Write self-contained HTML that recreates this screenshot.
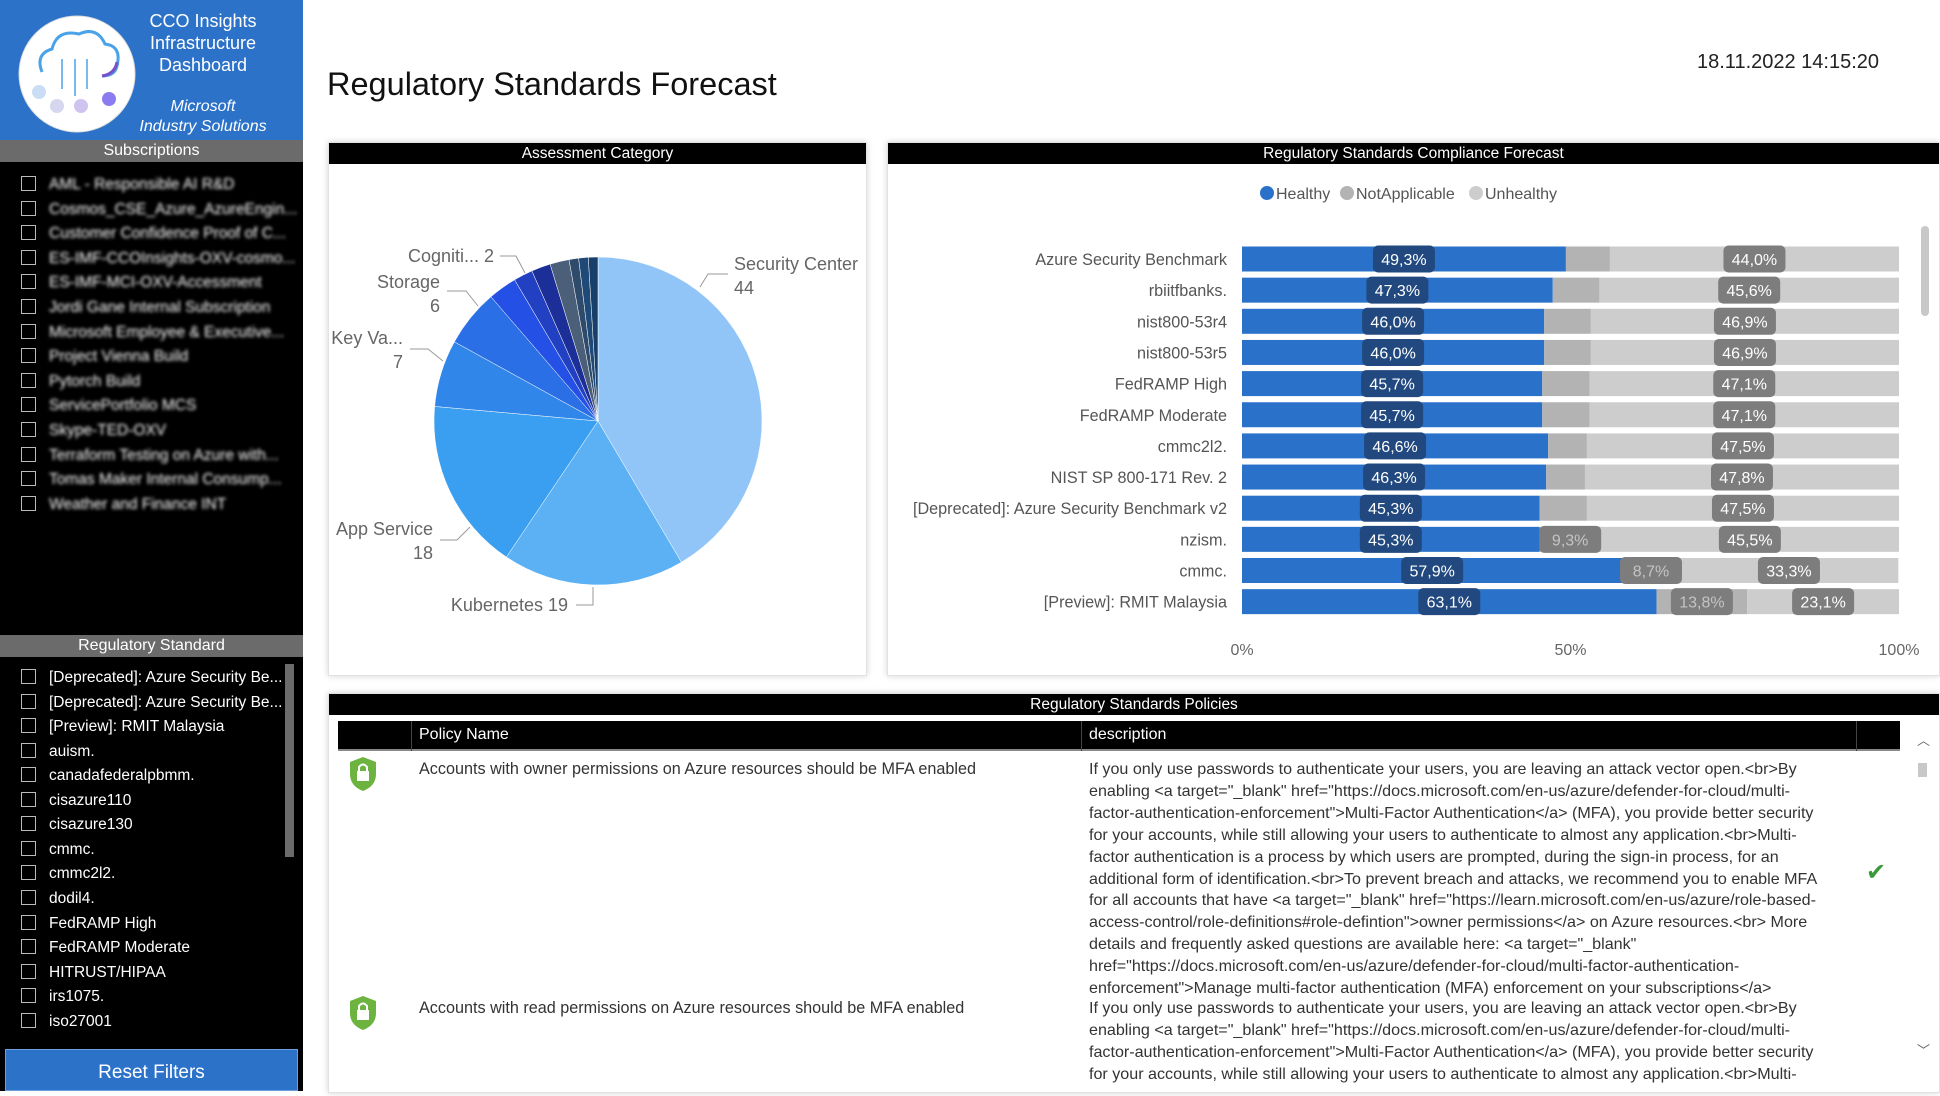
<!DOCTYPE html>
<html><head><meta charset="utf-8">
<style>
*{box-sizing:border-box;margin:0;padding:0}
body{width:1940px;height:1091px;overflow:hidden;background:#fff;font-family:"Liberation Sans",sans-serif;position:relative}
.abs{position:absolute}
#sidebar{left:0;top:0;width:303px;height:1091px;background:#000}
#brand{left:0;top:0;width:303px;height:140px;background:#2b72c8}
.brandtxt{position:absolute;left:140px;width:126px;text-align:center;color:#fff;font-size:18px;line-height:22px}
.sechdr{position:absolute;left:0;width:303px;height:22px;background:#6b6b6b;color:#fff;text-align:center;font-size:16px;line-height:22px}
.item{position:absolute;left:21px;height:22px;color:#fff;font-size:15.5px;line-height:20px;white-space:nowrap}
.cb{display:inline-block;width:15px;height:15px;border:1.5px solid #bbb;vertical-align:-2px;margin-right:13px}
.blur span.t{filter:blur(1.6px)}
.panel{position:absolute;background:#fff;border:1px solid #e2e2e2;box-shadow:0 0 6px rgba(0,0,0,.18)}
.phdr{height:21px;background:#000;color:#fff;text-align:center;font-size:15.5px;line-height:21px}
.desc{position:absolute;left:1089px;font-size:16.1px;color:#333;white-space:nowrap;line-height:21.8px}
</style></head><body>
<div id="sidebar" class="abs">
 <div id="brand" class="abs">
  <svg class="abs" style="left:17px;top:14px" width="122" height="122">
   <circle cx="60" cy="60" r="58" fill="#fff" stroke="#ddd"/>
   <path d="M25 58 Q18 40 35 35 Q40 15 62 20 Q80 12 88 30 Q105 32 100 52 Q98 62 85 62" fill="none" stroke="#4aa3e8" stroke-width="3"/>
   <path d="M85 62 Q98 60 100 48" fill="none" stroke="#7b4fc9" stroke-width="3"/>
   <line x1="45" y1="45" x2="45" y2="75" stroke="#4aa3e8" stroke-width="1.5"/>
   <line x1="58" y1="45" x2="58" y2="82" stroke="#4aa3e8" stroke-width="1.5"/>
   <line x1="70" y1="45" x2="70" y2="75" stroke="#4aa3e8" stroke-width="1.5"/>
   <circle cx="22" cy="78" r="7" fill="#c9def5"/><circle cx="40" cy="92" r="7" fill="#d6d6ee"/>
   <circle cx="64" cy="92" r="7" fill="#cfc4f0"/><circle cx="92" cy="85" r="7" fill="#8a7cf0"/>
  </svg>
  <div class="brandtxt" style="top:10px">CCO Insights<br>Infrastructure<br>Dashboard</div>
  <div class="brandtxt" style="top:97px;font-style:italic;font-size:16px;line-height:20px;left:135px;width:136px">Microsoft<br>Industry Solutions</div>
 </div>
 <div class="sechdr" style="top:140px">Subscriptions</div>
 <div id="subs" class="blur"></div>
 <div class="sechdr" style="top:635px">Regulatory Standard</div>
 <div id="regs"></div>
 <div class="abs" style="left:285px;top:664px;width:9px;height:193px;background:#6b6b6b"></div>
 <div class="abs" style="left:5px;top:1049px;width:293px;height:42px;background:#2b72c8;color:#fff;text-align:center;font-size:19px;line-height:46px;border:1px solid #6aa0e0">Reset Filters</div>
</div>

<div class="abs" style="left:327px;top:66px;font-size:32.5px;color:#111">Regulatory Standards Forecast</div>
<div class="abs" style="left:1697px;top:51px;font-size:20px;color:#222">18.11.2022 14:15:20</div>

<div class="panel" style="left:328px;top:142px;width:539px;height:534px">
 <div class="phdr">Assessment Category</div>
</div>
<div class="panel" style="left:887px;top:142px;width:1053px;height:534px">
 <div class="phdr">Regulatory Standards Compliance Forecast</div>
</div>
<svg id="charts" class="abs" style="left:0;top:0" width="1940" height="1091"></svg>

<div class="panel" style="left:328px;top:693px;width:1612px;height:400px">
 <div class="phdr">Regulatory Standards Policies</div>
</div>
<div class="abs" style="left:338px;top:721px;width:1562px;height:30px;background:#000;color:#fff;font-size:16px;line-height:28px;border-bottom:2px solid #888">
 <div class="abs" style="left:73px;top:0;width:1px;height:30px;background:#444"></div>
 <span class="abs" style="left:81px">Policy Name</span>
 <div class="abs" style="left:743px;top:0;width:1px;height:30px;background:#444"></div>
 <span class="abs" style="left:751px">description</span>
 <div class="abs" style="left:1518px;top:0;width:1px;height:30px;background:#444"></div>
</div>
<svg class="abs" style="left:348px;top:756px" width="30" height="36"><path d="M15 1 L28 6 L28 18 Q28 30 15 35 Q2 30 2 18 L2 6Z" fill="#6db33f"/><rect x="9" y="15" width="12" height="10" fill="#fff"/><path d="M11 15 V11 Q15 6 19 11 V15" fill="none" stroke="#fff" stroke-width="2"/></svg>
<svg class="abs" style="left:348px;top:995px" width="30" height="36"><path d="M15 1 L28 6 L28 18 Q28 30 15 35 Q2 30 2 18 L2 6Z" fill="#6db33f"/><rect x="9" y="15" width="12" height="10" fill="#fff"/><path d="M11 15 V11 Q15 6 19 11 V15" fill="none" stroke="#fff" stroke-width="2"/></svg>
<div class="abs" style="left:419px;top:760px;font-size:16.2px;color:#333">Accounts with owner permissions on Azure resources should be MFA enabled</div>
<div class="abs" style="left:419px;top:999px;font-size:16.2px;color:#333">Accounts with read permissions on Azure resources should be MFA enabled</div>
<div id="descs"></div>
<div class="abs" style="left:1866px;top:858px;color:#3a9a3a;font-size:24px">✔</div>
<div class="abs" style="left:1917px;top:730px;color:#666;font-size:13px">︿</div>
<div class="abs" style="left:1918px;top:763px;width:9px;height:14px;background:#c8c8c8"></div>
<div class="abs" style="left:1917px;top:1040px;color:#666;font-size:13px">﹀</div>

<script>
const subNames=["AML - Responsible AI R&D","Cosmos_CSE_Azure_AzureEngin...","Customer Confidence Proof of C...","ES-IMF-CCOInsights-OXV-cosmo...","ES-IMF-MCI-OXV-Accessment","Jordi Gane Internal Subscription","Microsoft Employee & Executive...","Project Vienna Build","Pytorch Build","ServicePortfolio MCS","Skype-TED-OXV","Terraform Testing on Azure with...","Tomas Maker Internal Consump...","Weather and Finance INT"];
const regNames=["[Deprecated]: Azure Security Be...","[Deprecated]: Azure Security Be...","[Preview]: RMIT Malaysia","auism.","canadafederalpbmm.","cisazure110","cisazure130","cmmc.","cmmc2l2.","dodil4.","FedRAMP High","FedRAMP Moderate","HITRUST/HIPAA","irs1075.","iso27001"];
const subs=document.getElementById('subs');
subNames.forEach((n,i)=>{const d=document.createElement('div');d.className='item';d.style.top=(175+i*24.6)+'px';d.innerHTML='<span class="cb"></span><span class="t">'+n+'</span>';


subs.appendChild(d);});
const regs=document.getElementById('regs');
regNames.forEach((n,i)=>{const d=document.createElement('div');d.className='item';d.style.top=(668+i*24.55)+'px';d.innerHTML='<span class="cb"></span><span class="t">'+n+'</span>';


regs.appendChild(d);});
const descLines=["If you only use passwords to authenticate your users, you are leaving an attack vector open.<br>By","enabling <a target=\"_blank\" href=\"https://docs.microsoft.com/en-us/azure/defender-for-cloud/multi-","factor-authentication-enforcement\">Multi-Factor Authentication</a> (MFA), you provide better security","for your accounts, while still allowing your users to authenticate to almost any application.<br>Multi-","factor authentication is a process by which users are prompted, during the sign-in process, for an","additional form of identification.<br>To prevent breach and attacks, we recommend you to enable MFA","for all accounts that have <a target=\"_blank\" href=\"https://learn.microsoft.com/en-us/azure/role-based-","access-control/role-definitions#role-defintion\">owner permissions</a> on Azure resources.<br> More","details and frequently asked questions are available here: <a target=\"_blank\"","href=\"https://docs.microsoft.com/en-us/azure/defender-for-cloud/multi-factor-authentication-","enforcement\">Manage multi-factor authentication (MFA) enforcement on your subscriptions</a>"];
const descs=document.getElementById('descs');
function addDesc(lines,top,name){lines.forEach((l,i)=>{const d=document.createElement('div');d.className='desc';d.style.top=(top+i*21.9)+'px';d.textContent=l;


descs.appendChild(d);});}
addDesc(descLines,759,'policy-description-1');
addDesc(descLines.slice(0,4),998,'policy-description-2');

const NS='http://www.w3.org/2000/svg';
const svg=document.getElementById('charts');
function el(tag,attrs,parent){const e=document.createElementNS(NS,tag);for(const k in attrs)e.setAttribute(k,attrs[k]);(parent||svg).appendChild(e);return e;}

/* ---- pie data ---- */
const pieCategories=["Security Center","Kubernetes","App Service","Key Va...","Storage","Other A","Cogniti...","Other B","Other C","Other D","Other E","Other F"];
const pieValues=[44,19,18,7,6,3,2,2,2,1,1,1];
const pieColors=["#92c5f7","#5cb1f4","#3a9ff0","#3087e9","#2a6fe6","#2550e6","#2140c2","#1c2f98","#4b5f78","#2f4b6b","#1f4a78","#173f6a"];
const cx=598,cy=421,R=164;
const total=pieValues.reduce((a,b)=>a+b,0);
let acc=0;
pieValues.forEach((v,i)=>{const a0=acc/total*2*Math.PI;acc+=v;const a1=acc/total*2*Math.PI;
 const x0=cx+R*Math.sin(a0),y0=cy-R*Math.cos(a0),x1=cx+R*Math.sin(a1),y1=cy-R*Math.cos(a1);
 const p=el('path',{d:`M${cx},${cy} L${x0},${y0} A${R},${R} 0 ${a1-a0>Math.PI?1:0} 1 ${x1},${y1}Z`,fill:pieColors[i],stroke:'#fff','stroke-width':0.5});
 
 
});
const pieLabelLayout=[[0,734,264,true,'start','700,287 708,274 728,274'],[1,568,605,false,'end','576,605 593,605 593,587'],[2,433,529,true,'end','440,540 457,540 470,527'],[3,403,338,true,'end','410,349 428,349 443,361'],[4,440,282,true,'end','447,291 466,291 478,306'],[6,494,256,false,'end','500,256 516,256 525,273']];
pieLabelLayout.forEach(L=>{const i=L[0];
 const pl=el('polyline',{points:L[5],fill:'none',stroke:'#999','stroke-width':1});
 
 
 const t=el('text',{x:L[1],y:L[2]+6,'text-anchor':L[4],'font-size':18,fill:'#666','font-family':'Liberation Sans'});
 t.textContent=L[3]?pieCategories[i]:pieCategories[i]+' '+pieValues[i];
 
 
 if(L[3]){const t2=el('text',{x:L[1],y:L[2]+30,'text-anchor':L[4],'font-size':18,fill:'#666','font-family':'Liberation Sans'});t2.textContent=pieValues[i];
 
 }
});

/* ---- bar data ---- */
const barCategories=["Azure Security Benchmark","rbiitfbanks.","nist800-53r4","nist800-53r5","FedRAMP High","FedRAMP Moderate","cmmc2l2.","NIST SP 800-171 Rev. 2","[Deprecated]: Azure Security Benchmark v2","nzism.","cmmc.","[Preview]: RMIT Malaysia"];
const healthy=[49.3,47.3,46.0,46.0,45.7,45.7,46.6,46.3,45.3,45.3,57.9,63.1];
const notApplicable=[6.7,7.1,7.1,7.1,7.2,7.2,5.9,5.9,7.2,9.3,8.7,13.8];
const unhealthy=[44.0,45.6,46.9,46.9,47.1,47.1,47.5,47.8,47.5,45.5,33.3,23.1];
const xTicks=[0,50,100];
const X0=1242,X1=1899;
const xs=v=>X0+(X1-X0)*v/100;
const ROW0=259,PITCH=31.15,BH=25;
const ys=i=>ROW0+i*PITCH;
const fmt=v=>v.toFixed(1).replace('.',',')+'%';
function valueBox(xc,yc,txt,bg,fg){
 const r=el('rect',{x:xc-31,y:yc-13.5,width:62,height:27,rx:5,fill:bg});
 
 
 const t=el('text',{x:xc,y:yc+6,'text-anchor':'middle','font-size':16,fill:fg,'font-family':'Liberation Sans'});t.textContent=txt;
 
 
}
barCategories.forEach((c,i)=>{const y=ys(i);
 const lab=el('text',{x:1227,y:y+6,'text-anchor':'end','font-size':16.2,fill:'#555','font-family':'Liberation Sans'});lab.textContent=c;
 
 
 const h=healthy[i],n=notApplicable[i],u=unhealthy[i];
 const b1=el('rect',{x:xs(0),y:y-BH/2,width:xs(h)-xs(0),height:BH,fill:'#2a72c9'});
 
 
 const b2=el('rect',{x:xs(h),y:y-BH/2,width:xs(h+n)-xs(h),height:BH,fill:'#b3b3b3'});
 
 
 const b3=el('rect',{x:xs(h+n),y:y-BH/2,width:Math.max(0,xs(Math.min(100,h+n+u))-xs(h+n)),height:BH,fill:'#cdcdcd'});
 
 
 valueBox((xs(0)+xs(h))/2,y,fmt(h),'#21497f','#fff');
 if(n>=8)valueBox((xs(h)+xs(h+n))/2,y,fmt(n),'#7d7d7d','#c4c4c4');
 valueBox((xs(h+n)+xs(Math.min(100,h+n+u)))/2,y,fmt(u),'#7d7d7d','#fff');
});
xTicks.forEach(v=>{const t=el('text',{x:xs(v),y:655,'text-anchor':'middle','font-size':16,fill:'#666','font-family':'Liberation Sans'});t.textContent=v+'%';
 
 });
const legendItems=[["Healthy","#2a72c9",1267],["NotApplicable","#b3b3b3",1347],["Unhealthy","#cdcdcd",1476]];
legendItems.forEach(L=>{const c=el('circle',{cx:L[2],cy:193,r:7,fill:L[1]});
 
 
 const t=el('text',{x:L[2]+9,y:199,'font-size':16,fill:'#555','font-family':'Liberation Sans'});t.textContent=L[0];
 
 });
const sb=el('rect',{x:1921,y:226,width:8,height:90,rx:4,fill:'#c8c8c8'});


</script>
</body></html>
